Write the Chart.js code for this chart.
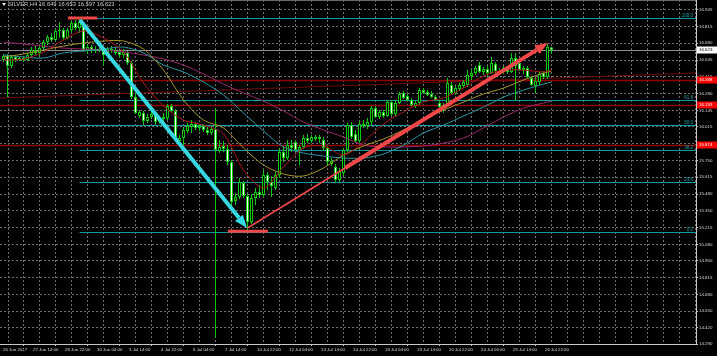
<!DOCTYPE html>
<html><head><meta charset="utf-8">
<script src="https://cdn.jsdelivr.net/npm/chart.js@4.4.1/dist/chart.umd.min.js"></script>
<style>html,body{margin:0;padding:0;background:#000;overflow:hidden}#wrap{width:717px;height:356px}</style>
</head><body><div id="wrap"><canvas id="c" width="717" height="356"></canvas></div>
<script>
const symbol = "SILVER", timeframe = "H4";
const opens = [16.547,16.579,16.499,16.571,16.547,16.563,16.547,16.587,16.627,16.603,
16.642,16.690,16.730,16.706,16.778,16.786,16.722,16.786,16.841,16.801,
16.833,16.627,16.650,16.619,16.634,16.627,16.587,16.634,16.619,16.611,
16.587,16.603,16.523,16.253,16.102,16.126,16.062,16.094,16.118,16.054,
16.078,16.086,16.181,16.142,15.903,15.927,15.983,16.014,16.038,16.007,
16.022,15.991,15.967,15.999,15.824,15.864,15.840,15.736,15.426,15.458,
15.569,15.466,15.259,15.450,15.498,15.474,15.633,15.577,15.529,15.633,
15.816,15.768,15.871,15.895,15.832,15.856,15.927,15.903,15.935,15.919,
15.911,15.848,15.720,15.696,15.593,15.649,15.832,16.030,15.959,15.903,
16.038,16.022,16.054,16.165,16.094,16.134,16.102,16.213,16.118,16.205,
16.285,16.261,16.229,16.181,16.205,16.308,16.293,16.277,16.253,16.205,
16.165,16.197,16.348,16.285,16.316,16.340,16.348,16.420,16.444,16.507,
16.452,16.475,16.444,16.515,16.460,16.452,16.483,16.452,16.563,16.523,
16.467,16.483,16.404,16.340,16.372,16.444,16.412,16.649];
const highs = [16.595,16.595,16.587,16.587,16.579,16.579,16.603,16.650,16.658,16.666,
16.706,16.746,16.762,16.793,16.849,16.801,16.801,16.857,16.865,16.880,
16.849,16.674,16.666,16.658,16.650,16.642,16.650,16.658,16.642,16.627,
16.634,16.619,16.539,16.285,16.149,16.142,16.118,16.142,16.134,16.102,
16.126,16.197,16.197,16.157,15.951,16.014,16.046,16.070,16.054,16.038,
16.038,16.014,16.022,16.165,15.911,15.903,15.871,15.752,15.490,15.609,
15.585,15.482,15.482,15.530,15.553,15.673,15.657,15.625,15.657,15.848,
15.864,15.911,15.911,15.911,15.871,15.951,15.959,15.951,15.951,15.951,
15.935,15.864,15.768,15.720,15.688,15.848,16.046,16.054,15.991,16.062,
16.070,16.086,16.181,16.181,16.149,16.149,16.229,16.229,16.229,16.293,
16.301,16.277,16.245,16.221,16.324,16.324,16.308,16.301,16.269,16.229,
16.205,16.404,16.372,16.340,16.364,16.388,16.467,16.467,16.499,16.531,
16.491,16.499,16.571,16.531,16.483,16.499,16.499,16.603,16.603,16.547,
16.499,16.499,16.420,16.404,16.452,16.460,16.674,16.653];
const lows = [16.531,16.253,16.483,16.531,16.539,16.531,16.539,16.571,16.587,16.579,
16.627,16.666,16.690,16.698,16.722,16.706,16.714,16.770,16.786,16.762,
16.611,16.595,16.603,16.603,16.611,16.507,16.571,16.603,16.587,16.571,
16.563,16.507,16.237,16.118,16.086,16.030,16.046,16.078,16.030,16.038,
16.054,16.070,16.126,15.911,15.887,15.871,15.967,15.967,15.991,15.983,
15.975,15.951,15.951,14.346,15.808,15.816,15.713,15.394,15.394,15.442,
15.450,15.178,15.243,15.394,15.450,15.458,15.514,15.458,15.514,15.609,
15.736,15.752,15.816,15.816,15.713,15.840,15.887,15.887,15.903,15.887,
15.832,15.713,15.704,15.577,15.577,15.625,15.816,15.919,15.887,15.887,
16.006,15.999,16.030,16.086,16.078,16.086,16.094,16.102,16.102,16.197,
16.237,16.221,16.181,16.165,16.189,16.277,16.261,16.245,16.221,16.165,
16.126,16.181,16.269,16.269,16.301,16.324,16.332,16.388,16.428,16.444,
16.428,16.420,16.436,16.444,16.436,16.436,16.436,16.444,16.229,16.460,
16.436,16.404,16.340,16.285,16.348,16.396,16.396,16.597];
const closes = [16.579,16.499,16.571,16.547,16.563,16.547,16.587,16.627,16.603,16.642,
16.690,16.730,16.706,16.778,16.786,16.722,16.786,16.841,16.801,16.849,
16.627,16.650,16.619,16.634,16.627,16.587,16.634,16.619,16.603,16.587,
16.611,16.523,16.253,16.126,16.134,16.062,16.094,16.118,16.054,16.078,
16.094,16.181,16.142,15.935,15.927,15.991,16.022,16.038,16.007,16.022,
15.991,15.967,15.999,15.832,15.856,15.840,15.736,15.418,15.458,15.577,
15.466,15.259,15.450,15.498,15.474,15.633,15.577,15.545,15.633,15.816,
15.768,15.871,15.848,15.832,15.856,15.927,15.903,15.935,15.919,15.935,
15.848,15.736,15.744,15.593,15.657,15.832,16.030,15.935,15.903,16.038,
16.022,16.054,16.165,16.094,16.134,16.102,16.213,16.118,16.205,16.277,
16.245,16.229,16.189,16.205,16.308,16.285,16.269,16.253,16.229,16.173,
16.189,16.364,16.285,16.324,16.348,16.372,16.428,16.444,16.483,16.452,
16.475,16.444,16.523,16.460,16.452,16.483,16.452,16.563,16.499,16.467,
16.483,16.412,16.348,16.380,16.436,16.412,16.650,16.623];

// moving averages read at sampled bars
const maBars = [0,5,10,15,20,25,30,35,40,45,50,55,60,65,70,75,80,85,90,95,100,105,110,115,120,125,130,135,137];
const maFast = [16.547,16.555,16.611,16.706,16.778,16.722,16.611,16.364,16.181,16.070,16.030,15.959,15.673,15.530,15.697,15.848,15.864,15.792,15.895,16.038,16.134,16.213,16.245,16.324,16.420,16.467,16.467,16.452,16.467];
const maMid = [16.571,16.595,16.627,16.658,16.682,16.698,16.698,16.634,16.467,16.229,16.070,16.007,15.848,15.713,15.641,15.625,15.689,15.792,15.864,15.919,15.991,16.070,16.149,16.213,16.277,16.324,16.388,16.444,16.460];
const maSlow = [16.587,16.571,16.563,16.603,16.619,16.634,16.650,16.603,16.507,16.452,16.372,16.269,16.126,15.983,15.856,15.808,15.784,15.768,15.768,15.800,15.871,15.967,16.030,16.102,16.173,16.253,16.308,16.356,16.372];
const maLong = [16.690,16.674,16.658,16.642,16.634,16.627,16.611,16.587,16.555,16.507,16.436,16.356,16.285,16.221,16.142,16.054,15.991,15.935,15.871,15.856,15.856,15.864,15.887,15.927,16.007,16.094,16.165,16.205,16.221];

const yTickValues = [16.945,16.815,16.680,16.545,16.415,16.280,16.145,16.015,15.880,15.750,15.615,15.480,15.350,15.215,15.080,14.950,14.815,14.680,14.550,14.420,14.290];
const xLabelBars = [-0.5,7,15,23,31,39,47,55,63,71,79,87,95,103,111,119,127,135];
const xTickLabels = ["26 Jun 2017","27 Jun 14:00","28 Jun 22:00","30 Jun 04:00","3 Jul 14:00","4 Jul 22:00","6 Jul 04:00","7 Jul 14:00","10 Jul 22:00","12 Jul 04:00","13 Jul 14:00","14 Jul 22:00","18 Jul 04:00","19 Jul 14:00","20 Jul 22:00","24 Jul 06:00","25 Jul 14:00","26 Jul 22:00"];

const levelPrices = [16.388, 16.193, 15.874];
const fiboHigh = {bar: 19, price: 16.880};
const fiboLow = {bar: 61, price: 15.178};
const fiboRatios = [0, 23.6, 38.2, 50, 61.8, 100];
const trendLine = [[-0.875, 16.245], [173.125, 16.444]];
const cyanArrow = [[19.1, 16.865], [60.9, 15.212]];
const redThin = [[61, 15.212], [85.4, 15.689]];
const redArrow = [[85.4, 15.689], [136.1, 16.682]];
const topMarker = [16.1, 23.4];
const bottomMarker = [56.1, 66.1];

const n = closes.length;
const lastPrice = closes[n-1];
const GREEN = '#10c810';
const GRID = '#6e6e6e';
const FONT = 'Liberation Sans, Arial, sans-serif';

const gridBars = [];
for (let b = 3; b <= 171; b += 4) gridBars.push(b);
const xTickValues = [xLabelBars[0]].concat(gridBars);
const labelFor = v => { const k = xLabelBars.indexOf(v); return k >= 0 ? xTickLabels[k] : ''; };

const wickData = [], bodyData = [];
for (let i = 0; i < n; i++) {
  wickData.push({x: i, y: [lows[i], highs[i]]});
  bodyData.push({x: i, y: [opens[i], closes[i]]});
}
const maSet = (arr, color) => ({
  type: 'line', data: maBars.map((b, k) => ({x: b, y: arr[k]})),
  borderColor: color, borderWidth: 1, pointRadius: 0, tension: 0.3, order: 0
});

function hline(ctx, x1, x2, py, color, w) {
  const yy = Math.round(py) + (w % 2 ? 0.5 : 0);
  ctx.strokeStyle = color; ctx.lineWidth = w;
  ctx.beginPath(); ctx.moveTo(x1, yy); ctx.lineTo(x2, yy); ctx.stroke();
}
function arrow(ctx, x1, y1, x2, y2, color, w, hl, hw) {
  const a = Math.atan2(y2 - y1, x2 - x1);
  const bx = x2 - hl * Math.cos(a), by = y2 - hl * Math.sin(a);
  ctx.strokeStyle = color; ctx.lineWidth = w; ctx.lineCap = 'butt';
  ctx.beginPath(); ctx.moveTo(x1, y1); ctx.lineTo(bx, by); ctx.stroke();
  ctx.fillStyle = color; ctx.beginPath(); ctx.moveTo(x2, y2);
  ctx.lineTo(bx + hw / 2 * Math.sin(a), by - hw / 2 * Math.cos(a));
  ctx.lineTo(bx - hw / 2 * Math.sin(a), by + hw / 2 * Math.cos(a));
  ctx.closePath(); ctx.fill();
}

const mtPlugin = {
  id: 'mtObjects',
  beforeDatasetsDraw(chart) {
    const {ctx, chartArea: a, scales: {x, y}} = chart;
    ctx.save();
    ctx.beginPath(); ctx.rect(a.left, a.top, a.right - a.left, a.bottom - a.top); ctx.clip();
    hline(ctx, a.left, a.right, y.getPixelForValue(lastPrice), '#8c8c8c', 1);
    levelPrices.forEach(p => hline(ctx, a.left, a.right, y.getPixelForValue(p), '#8e0000', 1.5));
    ctx.strokeStyle = '#700808'; ctx.lineWidth = 1;
    ctx.beginPath();
    ctx.moveTo(x.getPixelForValue(trendLine[0][0]), y.getPixelForValue(trendLine[0][1]));
    ctx.lineTo(x.getPixelForValue(trendLine[1][0]), y.getPixelForValue(trendLine[1][1]));
    ctx.stroke();
    const fx = x.getPixelForValue(fiboHigh.bar);
    fiboRatios.forEach(r => {
      const p = fiboLow.price + (fiboHigh.price - fiboLow.price) * r / 100;
      hline(ctx, fx, a.right, y.getPixelForValue(p), '#149aa2', 1);
    });
    ctx.restore();
  },
  afterDatasetsDraw(chart) {
    const {ctx, chartArea: a, scales: {x, y}} = chart;
    ctx.save();
    ctx.beginPath(); ctx.rect(a.left, a.top, a.right - a.left, a.bottom - a.top); ctx.clip();
    ctx.font = '4.5px ' + FONT; ctx.fillStyle = '#1aa8b0'; ctx.textAlign = 'right'; ctx.textBaseline = 'bottom';
    fiboRatios.forEach(r => {
      const p = fiboLow.price + (fiboHigh.price - fiboLow.price) * r / 100;
      ctx.fillText(r.toFixed(1), a.right - 3, Math.round(y.getPixelForValue(p)));
    });
    const RED = '#f04848';
    ctx.strokeStyle = RED; ctx.lineWidth = 3;
    ctx.beginPath();
    ctx.moveTo(x.getPixelForValue(topMarker[0]), y.getPixelForValue(fiboHigh.price));
    ctx.lineTo(x.getPixelForValue(topMarker[1]), y.getPixelForValue(fiboHigh.price));
    ctx.moveTo(x.getPixelForValue(bottomMarker[0]), y.getPixelForValue(fiboLow.price) - 1);
    ctx.lineTo(x.getPixelForValue(bottomMarker[1]), y.getPixelForValue(fiboLow.price) - 1);
    ctx.stroke();
    const P = pt => [x.getPixelForValue(pt[0]), y.getPixelForValue(pt[1])];
    let s = P(cyanArrow[0]), e = P(cyanArrow[1]);
    arrow(ctx, s[0], s[1], e[0], e[1], '#36d8e2', 4, 13, 10);
    s = P(redThin[0]); e = P(redThin[1]);
    ctx.strokeStyle = RED; ctx.lineWidth = 1.6;
    ctx.beginPath(); ctx.moveTo(s[0], s[1]); ctx.lineTo(e[0], e[1]); ctx.stroke();
    s = P(redArrow[0]); e = P(redArrow[1]);
    arrow(ctx, s[0], s[1], e[0], e[1], RED, 4, 13, 10);
    ctx.restore();
  },
  afterDraw(chart) {
    const {ctx, chartArea: a, scales: {y}} = chart;
    ctx.save();
    hline(ctx, 0, a.right, 0, '#6a6a6a', 1);
    ctx.font = '4.4px ' + FONT; ctx.textBaseline = 'middle'; ctx.textAlign = 'left';
    levelPrices.forEach(p => {
      const py = Math.round(y.getPixelForValue(p));
      ctx.fillStyle = '#ff0000'; ctx.fillRect(a.right + 1, py - 3.5, 20, 7);
      ctx.fillStyle = '#ffffff'; ctx.fillText(p.toFixed(3), a.right + 3, py);
    });
    const lp = Math.round(y.getPixelForValue(lastPrice));
    ctx.fillStyle = '#ffffff'; ctx.fillRect(a.right + 1, lp - 3.5, 20, 7);
    ctx.fillStyle = '#000000'; ctx.fillText(lastPrice.toFixed(3), a.right + 3, lp);
    ctx.fillStyle = '#e0e0e0';
    ctx.beginPath(); ctx.moveTo(2, 3); ctx.lineTo(6, 3); ctx.lineTo(4, 6); ctx.closePath(); ctx.fill();
    ctx.font = '5.8px ' + FONT; ctx.fillStyle = '#c8c8c8'; ctx.textBaseline = 'middle';
    const f = v => v.toFixed(3);
    ctx.fillText(`${symbol},${timeframe} ${f(opens[n-1])} ${f(highs[n-1])} ${f(lows[n-1])} ${f(closes[n-1])}`, 8, 4.8);
    ctx.restore();
  }
};

new Chart(document.getElementById('c'), {
  type: 'bar',
  data: {
    datasets: [
      maSet(maFast, '#a81818'),
      maSet(maMid, '#a4962a'),
      maSet(maSlow, '#2c98a4'),
      maSet(maLong, '#98286e'),
      {
        data: bodyData, order: 1, grouped: false, barThickness: 3, minBarLength: 1,
        inflateAmount: 0, borderSkipped: false, borderWidth: 1, borderColor: GREEN,
        backgroundColor: c => { const i = c.dataIndex; return closes[i] >= opens[i] ? '#000000' : '#f4f4f0'; }
      },
      {
        data: wickData, order: 2, grouped: false, barThickness: 1, inflateAmount: 0,
        borderWidth: 0, backgroundColor: GREEN
      }
    ]
  },
  options: {
    responsive: false, animation: false, events: [],
    layout: {padding: 0, autoPadding: false},
    plugins: {legend: {display: false}, tooltip: {enabled: false}},
    scales: {
      x: {
        type: 'linear', min: -0.875, max: 173.125, offset: false,
        afterBuildTicks: s => { s.ticks = xTickValues.map(v => ({value: v})); },
        afterFit: s => { s.height = 12; s.paddingLeft = 0; s.paddingRight = 0; },
        grid: {
          color: c => (c.tick && c.tick.value < 0) ? 'rgba(0,0,0,0)' : GRID,
          lineWidth: 1, drawTicks: true, tickLength: 2,
          tickColor: c => (c.tick && labelFor(c.tick.value)) ? '#c8c8c8' : 'rgba(0,0,0,0)'
        },
        border: {display: true, color: '#c8c8c8', width: 1, dash: [2, 2]},
        ticks: {
          autoSkip: false, maxRotation: 0, minRotation: 0, align: 'start', padding: 1, labelOffset: 1.5,
          color: '#d8d8d8', font: {family: FONT, size: 4.4},
          callback: v => labelFor(v)
        }
      },
      y: {
        type: 'linear', position: 'right', min: 14.290, max: 17.024,
        afterBuildTicks: s => { s.ticks = yTickValues.map(v => ({value: v})); },
        afterFit: s => { s.width = 21; s.paddingTop = 0; s.paddingBottom = 0; },
        grid: {color: GRID, lineWidth: 1, drawTicks: true, tickLength: 2, tickColor: '#c8c8c8'},
        border: {display: true, color: '#c8c8c8', width: 1, dash: [2, 2]},
        ticks: {
          autoSkip: false, padding: 1, color: '#d8d8d8', font: {family: FONT, size: 4.4},
          callback: v => Number(v).toFixed(3)
        }
      }
    }
  },
  plugins: [mtPlugin]
});
</script>
</body></html>
